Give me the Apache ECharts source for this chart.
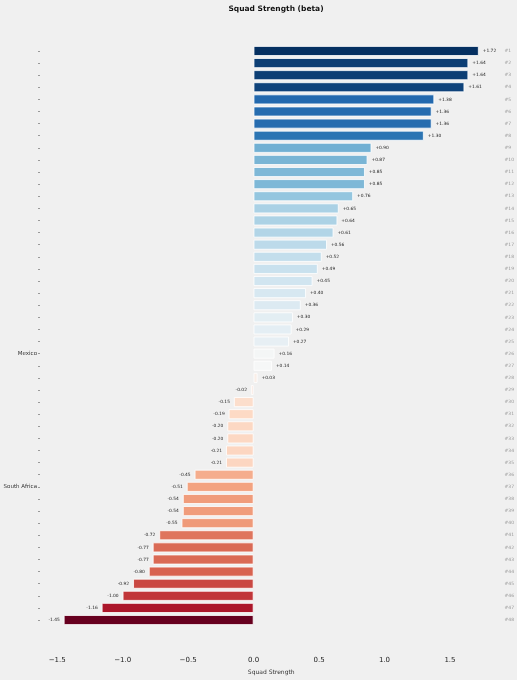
<!DOCTYPE html>
<html>
<head>
<meta charset="utf-8">
<script src="https://cdn.jsdelivr.net/npm/echarts@6/dist/echarts.min.js"></script>
<style>
  html, body { margin: 0; padding: 0; background: #f0f0f0; }
  #chart { width: 517px; height: 680px; }
</style>
</head>
<body>
<div id="chart"></div>
<script>
// teams, top to bottom (only two are named in the picture)
var teams = ['', '', '', '', '', '', '', '', '', '', '', '', '', '', '', '', '', '', '', '', '', '', '', '', '',
  'Mexico', '', '', '', '', '', '', '', '', '', '', 'South Africa', '', '', '', '', '', '', '', '', '', '', ''];
var strength = [1.72, 1.64, 1.64, 1.61, 1.38, 1.36, 1.36, 1.30, 0.90, 0.87, 0.85, 0.85, 0.76,
  0.65, 0.64, 0.61, 0.56, 0.52, 0.49, 0.45, 0.40, 0.36, 0.30, 0.29, 0.27, 0.16, 0.14, 0.03,
  -0.02, -0.15, -0.19, -0.20, -0.20, -0.21, -0.21, -0.45, -0.51, -0.54, -0.54, -0.55,
  -0.72, -0.77, -0.77, -0.80, -0.92, -1.00, -1.16, -1.45];
var ranks = strength.map(function (v, i) { return '#' + (i + 1); });

// matplotlib RdBu stops
var RDBU = ['#67001f', '#b2182b', '#d6604d', '#f4a582', '#fddbc7', '#f7f7f7',
  '#d1e5f0', '#92c5de', '#4393c3', '#2166ac', '#053061'];
var vmin = Math.min.apply(null, strength);
var vmax = Math.max.apply(null, strength);
var pad = (vmax - vmin) * 0.05;

var font = 'DejaVu Sans';
var chart = echarts.init(document.getElementById('chart'));

var option = {
  backgroundColor: '#f0f0f0',
  animation: false,
  textStyle: { fontFamily: font },
  title: {
    text: 'Squad Strength (beta)',
    left: 271,
    top: 0,
    textAlign: 'center',
    textStyle: { fontFamily: font, fontSize: 7.5, fontWeight: 'bold', color: '#111' }
  },
  grid: { left: 43, right: 17, top: 44.9, bottom: 49.2 },
  xAxis: {
    type: 'value',
    min: vmin - pad,
    max: vmax + pad,
    minInterval: 0.5,
    maxInterval: 0.5,
    name: 'Squad Strength',
    nameLocation: 'middle',
    nameGap: 39,
    nameTextStyle: { fontFamily: font, fontSize: 6, color: '#333' },
    axisLine: { show: false },
    axisTick: { show: false },
    splitLine: { show: false },
    axisLabel: {
      margin: 31,
      fontSize: 7,
      color: '#222',
      fontFamily: font,
      showMinLabel: false,
      showMaxLabel: false,
      formatter: function (v) {
        return (v < 0 ? '\u2212' : '') + Math.abs(v).toFixed(1);
      }
    }
  },
  yAxis: [{
    type: 'category',
    data: teams,
    inverse: true,
    offset: 3,
    axisLine: { show: false, onZero: false },
    axisTick: { show: true, alignWithLabel: true, length: 2, lineStyle: { color: '#999', width: 1 } },
    axisLabel: { margin: 3, fontSize: 5.5, color: '#333', fontFamily: font, interval: 0 }
  }, {
    type: 'category',
    data: ranks,
    inverse: true,
    position: 'right',
    axisLine: { show: false, onZero: false },
    axisTick: { show: false },
    axisLabel: { margin: 5, fontSize: 4.5, color: '#999', fontFamily: font, interval: 0, align: 'left' }
  }],
  series: [{
    name: 'Squad Strength',
    type: 'bar',
    yAxisIndex: 0,
    barWidth: '82%',
    data: strength.map(function (v) {
      return { value: v, label: { position: v < 0 ? 'left' : 'right' } };
    }),
    itemStyle: {
      borderColor: '#ffffff',
      borderWidth: 0.8,
      color: function (p) {
        return echarts.color.lerp((p.value - vmin) / (vmax - vmin), RDBU);
      }
    },
    label: {
      show: true,
      distance: 4,
      fontSize: 4.4,
      color: '#222',
      fontFamily: font,
      formatter: function (p) {
        return (p.value > 0 ? '+' : '') + p.value.toFixed(2);
      }
    }
  }]
};
chart.setOption(option);
</script>
</body>
</html>
